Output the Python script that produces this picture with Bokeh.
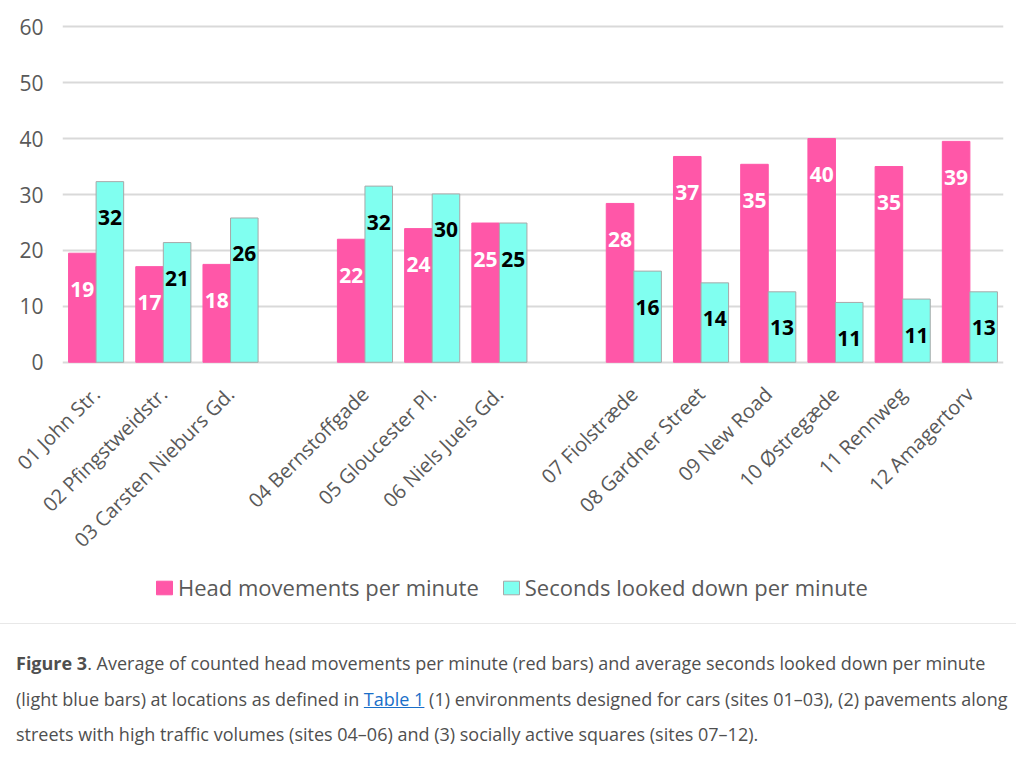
from bokeh.plotting import figure
from bokeh.models import FactorRange, Range1d, ColumnDataSource, Legend, LegendItem, Div, SingleIntervalTicker
from bokeh.transform import dodge
from bokeh.layouts import column
from bokeh.core.properties import value
from bokeh.embed import file_html
from bokeh.resources import INLINE
import math

# ---- data -------------------------------------------------------------
sites = ["01 John Str.", "02 Pfingstweidstr.", "03 Carsten Nieburs Gd.",
         "04 Bernstoffgade", "05 Gloucester Pl.", "06 Niels Juels Gd.",
         "07 Fiolstræde", "08 Gardner Street", "09 New Road",
         "10 Østregæde", "11 Rennweg", "12 Amagertorv"]
head_moves = [19.5, 17.1, 17.5, 22.0, 23.9, 24.9, 28.4, 36.8, 35.4, 40.0, 35.0, 39.5]
looked_down = [32.3, 21.4, 25.8, 31.5, 30.1, 24.9, 16.3, 14.2, 12.6, 10.7, 11.3, 12.6]
head_labels = ["19", "17", "18", "22", "24", "25", "28", "37", "35", "40", "35", "39"]
down_labels = ["32", "21", "26", "32", "30", "25", "16", "14", "13", "11", "11", "13"]
series_names = ["Head movements per minute", "Seconds looked down per minute"]
group_sizes = [3, 3, 6]
y_ticks_step = 10

FONT = "Open Sans"
GREY = "#595959"
PINK = "#FF57A8"
CYAN = "#80FFF0"
CYAN_EDGE = "#a8a8a8"

# factors with blank spacers between the three groups
factors = []
i = 0
for g, n in enumerate(group_sizes):
    factors += sites[i:i + n]
    i += n
    if g < len(group_sizes) - 1:
        factors.append(" " * (g + 1))

src = ColumnDataSource(dict(site=sites, head=head_moves, down=looked_down,
                            hl=head_labels, dl=down_labels))

p = figure(x_range=FactorRange(factors=factors, range_padding=0),
           y_range=Range1d(-0.4, 60.4),
           width=1016, height=565,
           min_border_left=62, min_border_right=13, min_border_top=24, min_border_bottom=200,
           output_backend="svg", toolbar_location=None)
p.outline_line_color = None
p.background_fill_color = "white"
p.border_fill_color = "white"

bw = 0.41
p.vbar(x=dodge("site", -bw / 2, range=p.x_range), top="head", width=bw, bottom=0,
       source=src, fill_color=PINK, line_color=PINK, line_width=1)
p.vbar(x=dodge("site", bw / 2, range=p.x_range), top="down", width=bw, bottom=0,
       source=src, fill_color=CYAN, line_color=CYAN_EDGE, line_width=1)

p.text(x=dodge("site", -bw / 2, range=p.x_range), y="head", text="hl", source=src,
       text_color="white", text_font=value(FONT), text_font_style="bold",
       text_font_size="21px", text_align="center", text_baseline="middle", y_offset=36)
p.text(x=dodge("site", bw / 2, range=p.x_range), y="down", text="dl", source=src,
       text_color="black", text_font=value(FONT), text_font_style="bold",
       text_font_size="21px", text_align="center", text_baseline="middle", y_offset=36)

# axes
p.yaxis.ticker = SingleIntervalTicker(interval=y_ticks_step)
p.yaxis.axis_line_color = None
p.yaxis.major_tick_line_color = None
p.yaxis.minor_tick_line_color = None
p.yaxis.major_tick_out = 0
p.yaxis.major_label_standoff = 15
p.yaxis.major_label_text_font = FONT
p.yaxis.major_label_text_font_size = "21px"
p.yaxis.major_label_text_color = GREY

p.xaxis.axis_line_color = None
p.xaxis.major_tick_line_color = None
p.xaxis.minor_tick_line_color = None
p.xaxis.major_tick_out = 0
p.xaxis.major_label_orientation = math.pi / 4
p.xaxis.major_label_standoff = 26
p.xaxis.major_label_text_font = FONT
p.xaxis.major_label_text_font_size = "20px"
p.xaxis.major_label_text_color = GREY

p.xgrid.grid_line_color = None
p.ygrid.grid_line_color = "#d9d9d9"
p.ygrid.grid_line_width = 2

# ---- legend strip (separate small figure so the legend is not clipped) ----
lf = figure(width=1016, height=58, x_range=Range1d(0, 1), y_range=Range1d(0, 1),
            x_axis_location=None, y_axis_location=None, min_border=0,
            output_backend="svg", toolbar_location=None)
lf.outline_line_color = None
lf.grid.visible = False
# legend swatches: renderers whose single mark lies outside this strip's view
lr1 = lf.vbar(x=[-10], top=[-5], bottom=[-6], width=0.1, fill_color=PINK, line_color=PINK)
lr2 = lf.vbar(x=[-10], top=[-5], bottom=[-6], width=0.1, fill_color=CYAN, line_color=CYAN_EDGE)
legend = Legend(items=[LegendItem(label=series_names[0], renderers=[lr1]),
                       LegendItem(label=series_names[1], renderers=[lr2])],
                orientation="horizontal", location=(92, 21),
                border_line_color=None, background_fill_alpha=0,
                padding=0, margin=0, spacing=22, label_standoff=4,
                glyph_width=20, glyph_height=17,
                label_text_font=FONT, label_text_font_size="22px",
                label_text_color=GREY)
lf.add_layout(legend, "center")

caption = Div(text=(
    '<div style="box-sizing:border-box; width:1016px; border-top:1px solid #e8e8e8; '
    'padding:22px 0 0 16px; '
    'font-family:\'Open Sans\'; font-size:18px; line-height:35.5px; color:#4f4f4f; white-space:nowrap;">'
    '<b>Figure 3</b>. Average of counted head movements per minute (red bars) and average seconds looked down per minute<br>'
    '(light blue bars) at locations as defined in <a href="#" style="color:#1a6fc9; text-decoration:underline;">Table 1</a>'
    ' (1) environments designed for cars (sites 01&#8211;03), (2) pavements along<br>'
    'streets with high traffic volumes (sites 04&#8211;06) and (3) socially active squares (sites 07&#8211;12).'
    '</div>'), width=1016, margin=(0, 0, 0, 0))

layout = column(p, lf, caption, spacing=0)
open("out.html", "w").write(file_html(layout, INLINE))
